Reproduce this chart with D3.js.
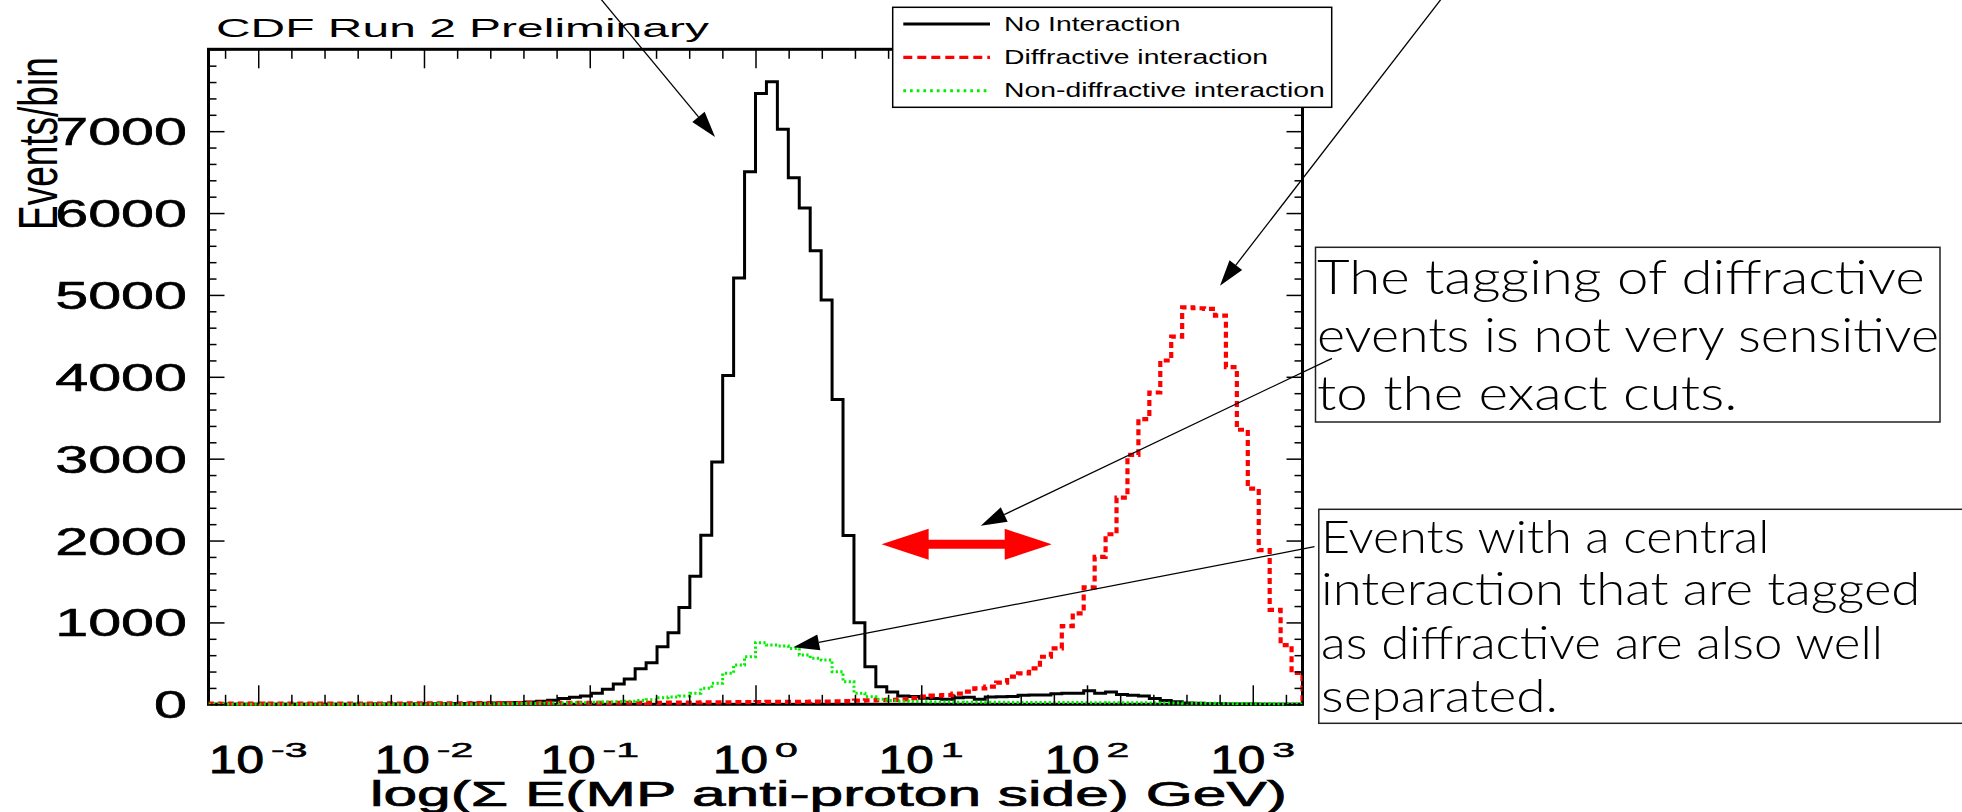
<!DOCTYPE html>
<html><head><meta charset="utf-8">
<script src="https://cdn.jsdelivr.net/npm/d3@7"></script>
<style>html,body{margin:0;padding:0;background:#fff;} svg{display:block}</style>
</head><body>
<svg id="c" width="1962" height="812"></svg>
<script>
// ---------------- DATA ----------------
const xLogRange = [-3.3, 3.3];       // log10(E) axis range
const nBins = 100;
const yMax = 8000;
const noInteraction = [
  0,0,0,0,0,0,1,0,1,1,
  1,1,2,2,2,3,3,4,5,6,
  7,8,9,10,12,14,16,18,22,28,
  38,48,70,85,101,134,183,248,309,434,
  508,703,874,1183,1565,2065,2959,4016,5207,6504,
  7459,7605,7024,6430,6061,5540,4939,3723,2061,995,
  459,215,150,101,95,75,70,61,80,85,
  62,90,93,95,110,113,115,130,134,136,
  166,134,150,120,110,100,72,45,30,15,
  12,8,6,5,4,3,2,2,1,1];
const diffractive = [
  8,7,8,8,9,8,8,9,8,9,
  9,9,10,9,10,10,11,10,11,12,
  12,12,13,13,14,14,15,15,16,16,
  16,17,17,17,18,18,18,19,19,19,
  18,19,20,21,22,23,24,25,26,27,
  28,29,30,30,31,32,34,36,40,44,
  48,52,55,60,75,93,105,113,130,154,
  195,215,264,337,378,439,581,683,955,1110,
  1427,1800,2077,2524,3046,3484,3808,4199,4491,4849,
  4837,4830,4748,4117,3353,2634,1882,1154,723,382];
const nonDiffractive = [
  0,0,0,0,0,0,0,0,0,0,
  0,0,1,1,1,1,2,2,2,3,
  3,4,4,5,5,6,7,8,9,10,
  12,14,16,18,20,24,28,32,38,45,
  55,80,88,101,134,195,256,378,479,581,
  751,723,711,683,601,561,540,398,276,134,
  93,61,45,38,34,30,28,27,26,25,
  25,24,24,23,23,22,22,22,21,21,
  20,20,19,19,18,18,17,16,15,14,
  13,12,11,10,9,8,7,6,5,4];
const xTickExponents = [-3,-2,-1,0,1,2,3];
const yTickValues = [0,1000,2000,3000,4000,5000,6000,7000];
const seriesNames = ["No Interaction","Diffractive interaction","Non-diffractive interaction"];
const seriesColors = ["#000000","#ff0000","#00ee00"];
const titleText = "CDF Run 2 Preliminary";
const xTitle = "log(\u03A3 E(MP anti-proton side) GeV)";
const yTitle = "Events/bin";
const note1 = ["The tagging of diffractive","events is not very sensitive","to the exact cuts."];
const note2 = ["Events with a central","interaction that are tagged","as diffractive are also well","separated."];
// arrow tips in data coordinates [log10 E, events/bin]
const arrowTips = [[-0.244,6930],[2.802,5113],[1.359,2181],[0.228,696]];
const doubleArrow = [0.761, 1.787, 1954];

// ---------------- LAYOUT ----------------
const F = {left:208.5, right:1302.5, top:49.3, bottom:704.3};
const ROOTFONT = "'Liberation Sans', Arial, Helvetica, sans-serif";
const NOTEFONT = "Lato, 'Open Sans', sans-serif";
const svg = d3.select("#c");
svg.append("rect").attr("width",1962).attr("height",812).attr("fill","#fff");

const x = d3.scaleLinear().domain(xLogRange).range([F.left, F.right]);
const y = d3.scaleLinear().domain([0, yMax]).range([F.bottom, F.top]);

function sText(parent, str, o) {
  const g = parent.append("g");
  const t = g.append("text")
    .attr("font-family", o.family || ROOTFONT)
    .attr("font-size", o.size)
    .attr("font-weight", o.weight || "normal")
    .attr("text-anchor", o.anchor || "start")
    .attr("fill", o.fill || "#000")
    .text(str);
  if (o.stroke) t.attr("stroke", o.fill || "#000").attr("stroke-width", o.stroke);
  if (o.dy) t.attr("dy", o.dy);
  const w = t.node().getComputedTextLength();
  const k = o.width ? o.width / w : (o.sx || 1);
  g.attr("transform", `translate(${o.x},${o.y}) scale(${k},1)` + (o.rotate ? ` rotate(${o.rotate})` : ""));
  return w * k;
}

// clip
svg.append("defs").append("clipPath").attr("id","plotclip")
  .append("rect").attr("x",F.left).attr("y",F.top-2).attr("width",F.right-F.left).attr("height",F.bottom-F.top+4);

// frame
svg.append("rect").attr("x",F.left).attr("y",F.top).attr("width",F.right-F.left).attr("height",F.bottom-F.top)
  .attr("fill","none").attr("stroke","#000").attr("stroke-width",3);

// histograms
const edges = d3.range(nBins+1).map(i => xLogRange[0] + i*(xLogRange[1]-xLogRange[0])/nBins);
function stepPts(vals){
  const p = [[edges[0],0]];
  vals.forEach((v,i)=>p.push([edges[i],v]));
  p.push([edges[nBins], vals[nBins-1]]);
  p.push([edges[nBins], 0]);
  return p;
}
const line = d3.line().x(d=>x(d[0])).y(d=>y(d[1])).curve(d3.curveStepAfter);
const hg = svg.append("g").attr("clip-path","url(#plotclip)");
hg.append("path").attr("d", line(stepPts(noInteraction))).attr("fill","none")
  .attr("stroke",seriesColors[0]).attr("stroke-width",3);
hg.append("path").attr("d", line(stepPts(diffractive))).attr("fill","none")
  .attr("stroke",seriesColors[1]).attr("stroke-width",4.2).attr("stroke-dasharray","6,4");
hg.append("path").attr("d", line(stepPts(nonDiffractive))).attr("fill","none")
  .attr("stroke",seriesColors[2]).attr("stroke-width",3).attr("stroke-dasharray","2.2,2.4");

// ticks (inside, on all four sides)
const xMinor = d3.range(-16,17).filter(i=>i%5!==0).map(i=>i/5);
const yMinor = d3.range(0,yMax+1,200).filter(v=>v%1000!==0);
const yMajor = d3.range(0,yMax+1,1000);
function tickAxis(axis, tr) {
  const g = svg.append("g").attr("transform", tr).call(axis);
  g.select(".domain").remove();
  g.selectAll("line").attr("stroke","#000").attr("stroke-width",1.5);
  g.selectAll("text").remove();
}
tickAxis(d3.axisBottom(x).tickValues(xTickExponents).tickSize(-19).tickFormat(""), `translate(0,${F.bottom})`);
tickAxis(d3.axisBottom(x).tickValues(xMinor).tickSize(-9.5).tickFormat(""), `translate(0,${F.bottom})`);
tickAxis(d3.axisTop(x).tickValues(xTickExponents).tickSize(-19).tickFormat(""), `translate(0,${F.top})`);
tickAxis(d3.axisTop(x).tickValues(xMinor).tickSize(-9.5).tickFormat(""), `translate(0,${F.top})`);
tickAxis(d3.axisLeft(y).tickValues(yMajor).tickSize(-16).tickFormat(""), `translate(${F.left},0)`);
tickAxis(d3.axisLeft(y).tickValues(yMinor).tickSize(-8).tickFormat(""), `translate(${F.left},0)`);
tickAxis(d3.axisRight(y).tickValues(yMajor).tickSize(-16).tickFormat(""), `translate(${F.right},0)`);
tickAxis(d3.axisRight(y).tickValues(yMinor).tickSize(-8).tickFormat(""), `translate(${F.right},0)`);

// y tick labels
yTickValues.forEach(v => {
  sText(svg, String(v), {x: 187, y: y(v), size: 39, anchor: "end", sx: 1.52, dy: "0.36em", stroke: 0.6});
});
// x tick labels 10^n
const MAIN_SX = 1.3, SUP_SX = 2.0, MAIN_FS = 38, SUP_FS = 20.5;
xTickExponents.forEach(e => {
  const g = svg.append("g");
  const tmp = g.append("text").attr("font-family",ROOTFONT).attr("font-size",MAIN_FS).text("10");
  const w1 = tmp.node().getComputedTextLength()*MAIN_SX; tmp.remove();
  const tmp2 = g.append("text").attr("font-family",ROOTFONT).attr("font-size",SUP_FS).text(String(e));
  const w2 = tmp2.node().getComputedTextLength()*SUP_SX; tmp2.remove();
  const gap = 7;
  const left = x(e) - (w1+gap+w2)/2;
  sText(g, "10", {x: left, y: 773.3, size: MAIN_FS, sx: MAIN_SX, stroke: 0.9});
  sText(g, String(e), {x: left+w1+gap, y: 756.5, size: SUP_FS, sx: SUP_SX, stroke: 0.5});
});

// titles
sText(svg, xTitle, {x: 370, y: 806, size: 35, width: 917, stroke: 0.7});
sText(svg, titleText, {x: 216, y: 36.7, size: 26.5, width: 493});
sText(svg, yTitle, {x: 57, y: 230, size: 37, sx: 1.5, rotate: -90});

// legend
const lg = svg.append("g");
lg.append("rect").attr("x",892.7).attr("y",7.3).attr("width",439).attr("height",100)
  .attr("fill","#fff").attr("stroke","#000").attr("stroke-width",1.5);
const legDash = [null, "9,5", "2.7,4"];
const legW = [3, 3.3, 3];
seriesNames.forEach((n,i) => {
  const cy = 24 + i*33.35;
  const l = lg.append("line").attr("x1",903.3).attr("x2",990).attr("y1",cy).attr("y2",cy)
    .attr("stroke",seriesColors[i]).attr("stroke-width",legW[i]);
  if (legDash[i]) l.attr("stroke-dasharray",legDash[i]);
  sText(lg, n, {x: 1004, y: cy+6.5, size: 21, sx: 1.35});
});

// note boxes
svg.append("rect").attr("x",1315.5).attr("y",247.3).attr("width",624.5).attr("height",174.7)
  .attr("fill","none").attr("stroke","#222").attr("stroke-width",1.5);
svg.append("rect").attr("x",1318.8).attr("y",509.3).attr("width",680).attr("height",214)
  .attr("fill","none").attr("stroke","#222").attr("stroke-width",1.5);
const n1base = [293.5, 352, 410], n1w = [608, 622, 420.5];
note1.forEach((s,i)=> sText(svg, s, {x:1317, y:n1base[i], size:48, family:NOTEFONT, weight:300, width:n1w[i]}));
const n2base = [553.3, 605, 659.3, 711.7], n2w = [448.5, 599.5, 562, 237];
note2.forEach((s,i)=> sText(svg, s, {x:1321, y:n2base[i], size:46, family:NOTEFONT, weight:300, width:n2w[i]}));

// arrows
const arrowStarts = [[600,-2],[1442,-2],[1332,358.3],[1314.5,546.7]];
arrowTips.forEach((tp,i) => {
  const tx = x(tp[0]), ty = y(tp[1]);
  const [sx0, sy0] = arrowStarts[i];
  const dx = tx - sx0, dy = ty - sy0, L = Math.hypot(dx,dy);
  const ux = dx/L, uy = dy/L, nx = -uy, ny = ux;
  const bx = tx - 26*ux, by = ty - 26*uy;
  svg.append("line").attr("x1",sx0).attr("y1",sy0).attr("x2",bx).attr("y2",by)
    .attr("stroke","#000").attr("stroke-width",1.3);
  svg.append("polygon").attr("points",[[tx,ty],[bx+8*nx,by+8*ny],[bx-8*nx,by-8*ny]].map(p=>p.join(",")).join(" "))
    .attr("fill","#000");
});
// red double arrow
{
  const xl = x(doubleArrow[0]), xr = x(doubleArrow[1]), yc = y(doubleArrow[2]);
  const hl = 47, hh = 15.5, sh = 4.5;
  const pts = [[xl,yc],[xl+hl,yc-hh],[xl+hl,yc-sh],[xr-hl,yc-sh],[xr-hl,yc-hh],[xr,yc],
               [xr-hl,yc+hh],[xr-hl,yc+sh],[xl+hl,yc+sh],[xl+hl,yc+hh]];
  svg.append("polygon").attr("points", pts.map(p=>p.join(",")).join(" ")).attr("fill","#ff0000");
}
</script>
</body></html>
